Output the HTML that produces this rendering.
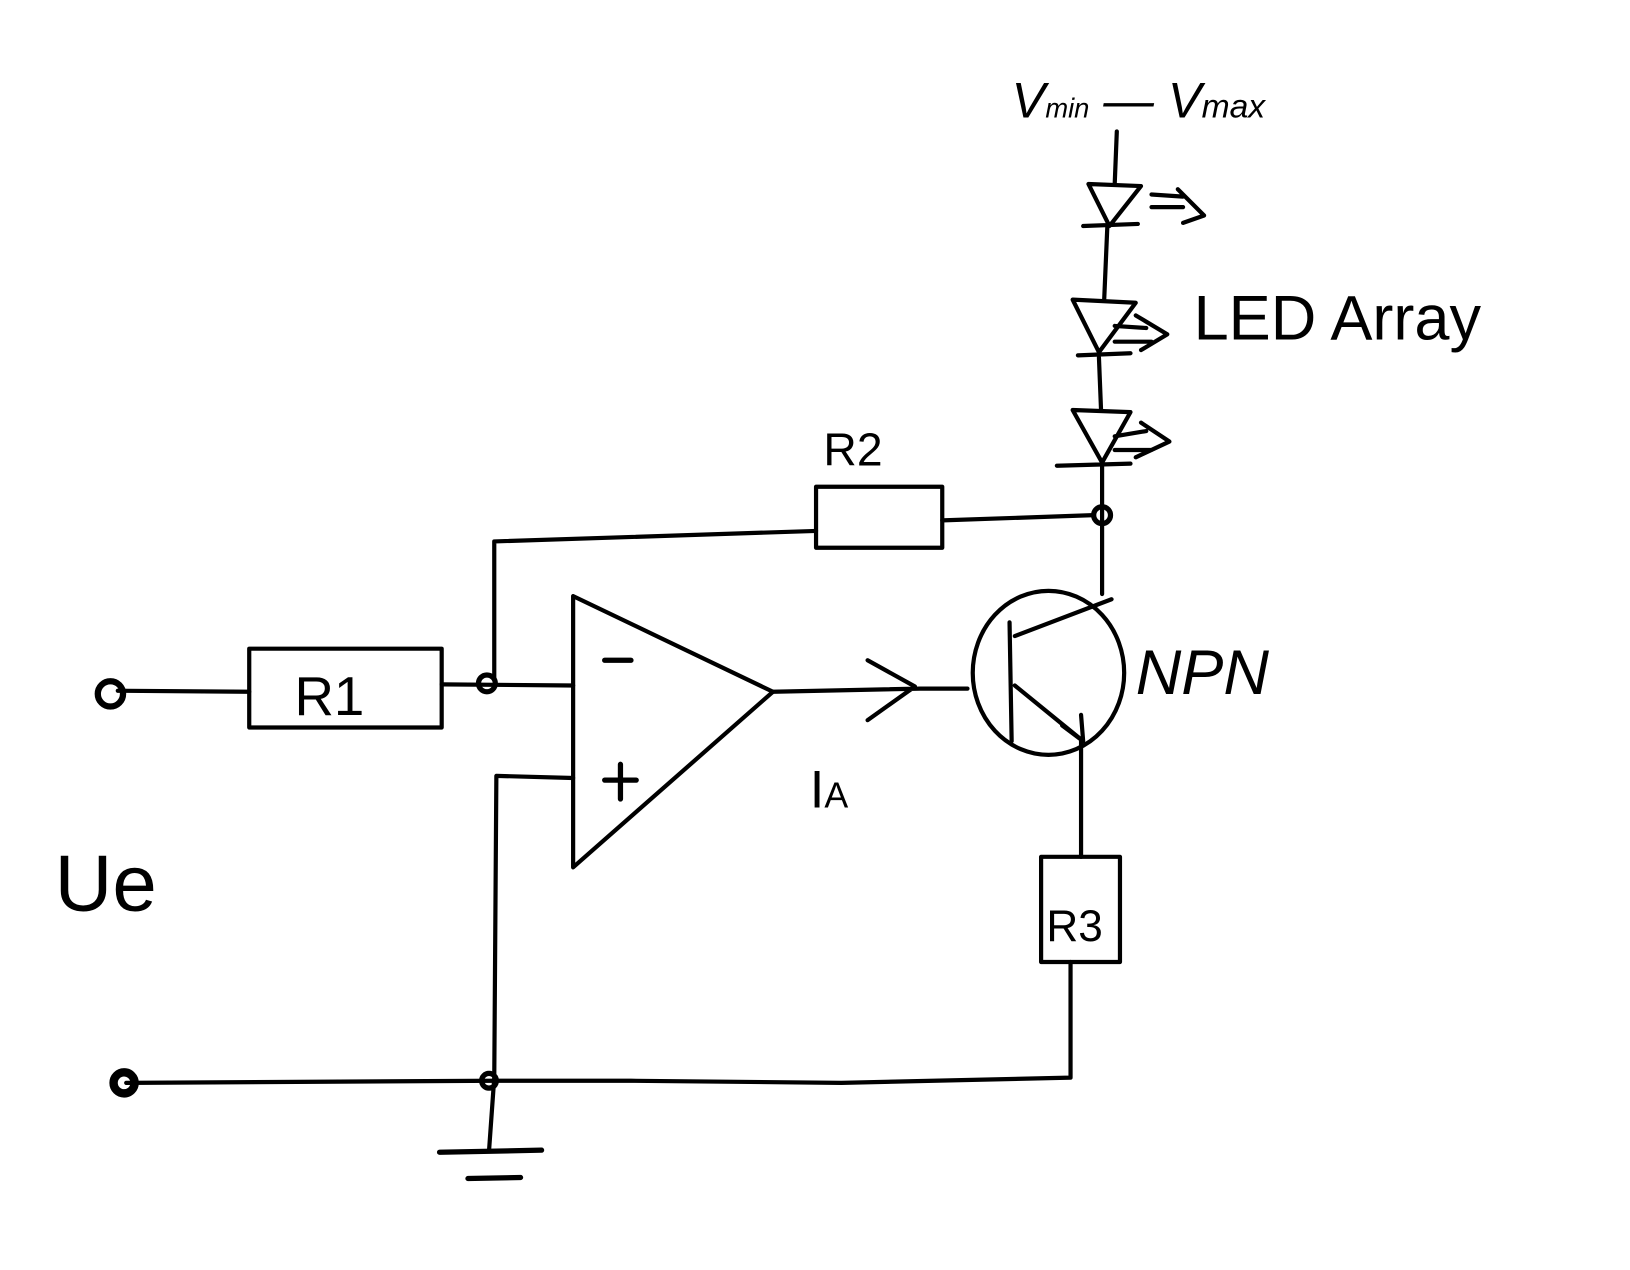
<!DOCTYPE html>
<html><head><style>html,body{margin:0;padding:0;background:#fff}svg{display:block}</style></head>
<body>
<svg width="1630" height="1270" viewBox="0 0 1550 1208" preserveAspectRatio="none" xmlns="http://www.w3.org/2000/svg">
<rect width="1550" height="1208" fill="#fff"/>
<g fill="none" stroke="#000" stroke-width="4" stroke-linecap="round" stroke-linejoin="round">
<!-- supply & LEDs -->
<path d="M1062 125 L1060 175"/>
<path d="M1035 175 L1085 177 L1055 215 Z M1030 215 L1082 213"/>
<path d="M1095 185 L1125 187 M1095 197 L1125 197 M1120 180 L1145 205 L1125 212"/>
<path d="M1053 215 L1050 285"/>
<path d="M1020 285 L1080 288 L1045 335 Z M1025 338 L1075 336"/>
<path d="M1060 310 L1090 312 M1060 325 L1095 325 M1080 300 L1110 318 L1085 333"/>
<path d="M1045 340 L1047 390"/>
<path d="M1020 390 L1075 392 L1048 440 Z M1005 443 L1075 441"/>
<path d="M1060 415 L1090 410 M1060 428 L1095 428 M1085 402 L1112 420 L1080 435"/>
<path d="M1048 443 L1048 565"/>
<circle cx="1048" cy="490" r="8" stroke-width="5"/>
<!-- R2 -->
<rect x="776" y="463" width="120" height="58"/>
<path d="M896 495 L1040 490 M776 505 L470 515 L470 645"/>
<circle cx="463" cy="650" r="8" stroke-width="5"/>
<!-- R1 -->
<rect x="237" y="617" width="183" height="75"/>
<path d="M112 657 L237 658 M420 651 L545 652"/>
<circle cx="105" cy="660" r="12" stroke-width="6"/>
<circle cx="118" cy="1030" r="10" stroke-width="8"/>
<!-- opamp -->
<path d="M545 567 L545 825 L735 658 L545 567"/>
<path d="M575 628 L600 628 M575 742 L605 742 M590 727 L590 760" stroke-width="5"/>
<path d="M545 740 L472 738 L470 1025 L465 1095"/>
<path d="M735 658 L875 655 M825 628 L870 653 L825 685 M875 655 L920 655"/>
<!-- transistor -->
<ellipse cx="997" cy="640" rx="72" ry="78"/>
<path d="M960 592 L962 705 M965 605 L1057 570 M965 652 L1030 705 M1010 690 L1030 705 L1028 680"/>
<path d="M1028 705 L1028 815"/>
<rect x="990" y="815" width="75" height="100"/>
<path d="M1018 915 L1018 1025 L800 1030 L600 1028 L470 1028 L120 1030"/>
<circle cx="465" cy="1028" r="7" stroke-width="5"/>
<path d="M418 1096 L515 1094 M445 1121 L495 1120" stroke-width="5"/>
</g>
<g font-family="Liberation Sans, sans-serif" fill="#000" font-style="italic">
<text x="962" y="112" font-size="48">V<tspan font-size="26">min</tspan> — V<tspan font-size="32">max</tspan></text>
<text x="1135" y="323" font-size="60" font-style="normal">LED  Array</text>
<text x="783" y="443" font-size="44" font-style="normal">R2</text>
<text x="280" y="680" font-size="52" font-style="normal">R1</text>
<text x="995" y="895" font-size="42" font-style="normal">R3</text>
<text x="1080" y="660" font-size="60">NPN</text>
<text x="770" y="768" font-size="50" font-style="normal">I<tspan font-size="34">A</tspan></text>
<text x="52" y="866" font-size="76" font-style="normal">Ue</text>
</g>
</svg>
</body></html>
